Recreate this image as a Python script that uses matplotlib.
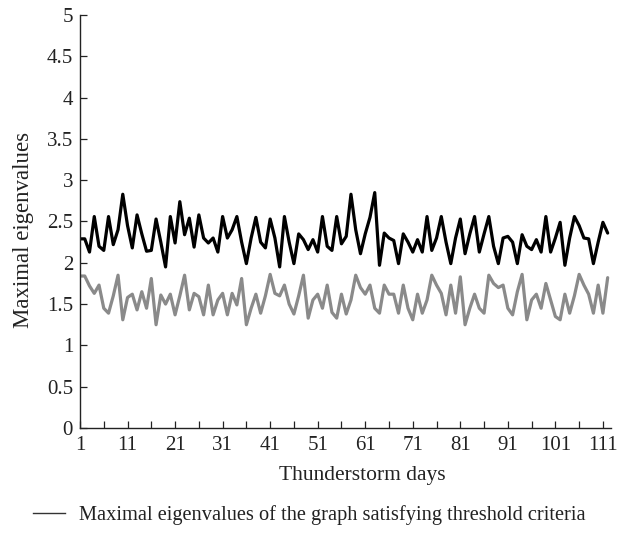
"""Maximal eigenvalues per thunderstorm day, two series."""

import matplotlib

matplotlib.use("Agg")
import matplotlib.pyplot as plt
from matplotlib.lines import Line2D

# days 1..112
days = list(range(1, 113))

# graph satisfying threshold criteria (black)
threshold_vals = [
    2.29, 2.29, 2.13, 2.56, 2.20, 2.15, 2.56, 2.22, 2.40, 2.83,
    2.45, 2.18, 2.58, 2.35, 2.14, 2.15, 2.53, 2.25, 1.95, 2.56,
    2.24, 2.74, 2.34, 2.54, 2.19, 2.58, 2.30, 2.24, 2.30, 2.13,
    2.56, 2.30, 2.40, 2.56, 2.25, 1.99, 2.30, 2.55, 2.25, 2.18,
    2.53, 2.30, 1.95, 2.56, 2.25, 1.99, 2.35, 2.28, 2.16, 2.28,
    2.13, 2.56, 2.20, 2.15, 2.56, 2.23, 2.32, 2.83, 2.40, 2.11,
    2.35, 2.55, 2.85, 1.97, 2.36, 2.30, 2.27, 1.99, 2.35, 2.25,
    2.13, 2.28, 2.13, 2.56, 2.15, 2.30, 2.56, 2.25, 1.99, 2.30,
    2.53, 2.11, 2.35, 2.56, 2.13, 2.35, 2.56, 2.20, 1.99, 2.30,
    2.32, 2.25, 1.99, 2.34, 2.20, 2.16, 2.28, 2.13, 2.56, 2.13,
    2.30, 2.49, 1.97, 2.30, 2.56, 2.45, 2.30, 2.29, 1.99, 2.25,
    2.49, 2.36,
]

# second series (grey)
other_vals = [
    1.84, 1.84, 1.72, 1.63, 1.73, 1.45, 1.39, 1.60, 1.85, 1.31,
    1.58, 1.62, 1.43, 1.65, 1.45, 1.81, 1.25, 1.61, 1.50, 1.62,
    1.37, 1.60, 1.85, 1.43, 1.63, 1.59, 1.37, 1.73, 1.37, 1.55,
    1.63, 1.37, 1.63, 1.49, 1.81, 1.25, 1.45, 1.62, 1.39, 1.60,
    1.86, 1.63, 1.60, 1.73, 1.50, 1.38, 1.60, 1.85, 1.33, 1.55,
    1.62, 1.45, 1.73, 1.40, 1.33, 1.62, 1.38, 1.55, 1.85, 1.70,
    1.62, 1.73, 1.45, 1.39, 1.73, 1.62, 1.62, 1.39, 1.73, 1.45,
    1.31, 1.62, 1.39, 1.55, 1.85, 1.73, 1.63, 1.37, 1.73, 1.39,
    1.83, 1.25, 1.45, 1.62, 1.45, 1.39, 1.85, 1.75, 1.70, 1.73,
    1.45, 1.37, 1.65, 1.86, 1.31, 1.55, 1.62, 1.45, 1.75, 1.55,
    1.35, 1.31, 1.62, 1.39, 1.60, 1.86, 1.73, 1.62, 1.39, 1.73,
    1.39, 1.82,
]

x_ticks = list(range(1, 112, 5))
x_labels = [str(d) if (d - 1) % 10 == 0 else "" for d in x_ticks]
y_ticks = [0, 0.5, 1, 1.5, 2, 2.5, 3, 3.5, 4, 4.5, 5]
y_labels = ["0", "0.5", "1", "1.5", "2", "2.5", "3", "3.5", "4", "4.5", "5"]

legend_label = "Maximal eigenvalues of the graph satisfying threshold criteria"

plt.rcParams["font.family"] = ["Liberation Serif", "DejaVu Serif"]
plt.rcParams["font.size"] = 14.7

fig = plt.figure(figsize=(6.27, 5.4), dpi=100)
ax = fig.add_axes([80 / 627, 1 - 428 / 540, (611 - 80) / 627, (428 - 15) / 540])

ax.plot(days, other_vals, color="#8a8a8a", lw=2.3,
        solid_joinstyle="round", solid_capstyle="round")
ax.plot(days, threshold_vals, color="black", lw=2.3,
        solid_joinstyle="round", solid_capstyle="round")

ax.set_xlim(1, 112.7)
ax.set_ylim(0, 5)
ax.set_xticks(x_ticks)
ax.set_xticklabels(x_labels)
ax.set_yticks(y_ticks)
ax.set_yticklabels(y_labels)
ax.tick_params(direction="in", length=5, width=0.9, colors="#222222",
               labelsize=15, labelcolor="#222222")
ax.tick_params(axis="y", pad=5)
ax.tick_params(axis="x", pad=6)

for side in ("top", "right"):
    ax.spines[side].set_visible(False)
for side in ("left", "bottom"):
    ax.spines[side].set_linewidth(1.0)
    ax.spines[side].set_color("#222222")

ax.set_xlabel("Thunderstorm days", color="#222222", fontsize=15.5, va="top")
ax.xaxis.set_label_coords(0.532, -0.093)
ax.set_ylabel("Maximal eigenvalues", color="#222222", fontsize=16.5)
ax.yaxis.set_label_coords(-0.086, 0.48)

handle = Line2D([], [], color="#333333", lw=1.0)
fig.legend(
    [handle], [legend_label],
    loc="center left", bbox_to_anchor=(33 / 627, 1 - 515 / 540),
    frameon=False, handlelength=1.55, handletextpad=0.7, borderpad=0,
    borderaxespad=0, labelcolor="#222222",
)

fig.savefig("out.png", dpi=100)
plt.close(fig)
